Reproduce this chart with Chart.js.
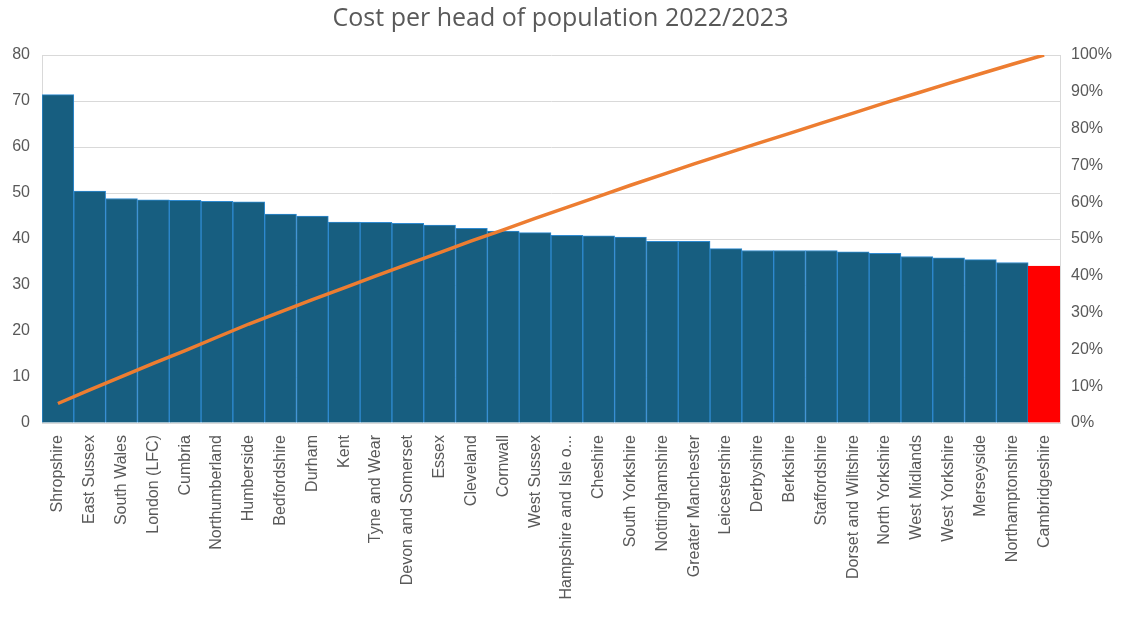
<!DOCTYPE html>
<html>
<head>
<meta charset="utf-8">
<script src="https://cdn.jsdelivr.net/npm/chart.js@4"></script>
<style>
  html, body { margin: 0; padding: 0; background: #ffffff; }
  #wrap { width: 1121px; height: 617px; }
</style>
</head>
<body>
<div id="wrap"><canvas id="costChart" width="1121" height="617"></canvas></div>
<script>
// Forces et coût par habitant, triés du plus cher au moins cher
var forces = ["Shropshire", "East Sussex", "South Wales", "London (LFC)", "Cumbria", "Northumberland",
  "Humberside", "Bedfordshire", "Durham", "Kent", "Tyne and Wear", "Devon and Somerset", "Essex",
  "Cleveland", "Cornwall", "West Sussex", "Hampshire and Isle o...", "Cheshire", "South Yorkshire",
  "Nottinghamshire", "Greater Manchester", "Leicestershire", "Derbyshire", "Berkshire", "Staffordshire",
  "Dorset and Wiltshire", "North Yorkshire", "West Midlands", "West Yorkshire", "Merseyside",
  "Northamptonshire", "Cambridgeshire"];

var costPerHead = [71.4, 50.4, 48.8, 48.5, 48.4, 48.2, 48.1, 45.4, 45.0, 43.7, 43.6, 43.4, 43.0,
  42.3, 41.7, 41.4, 40.8, 40.7, 40.4, 39.5, 39.5, 37.9, 37.5, 37.5, 37.5, 37.2, 36.9, 36.2,
  35.9, 35.5, 34.9, 34.1];

// Courbe cumulée (en %)
var cumulativePct = [5.3, 9.0, 12.6, 16.2, 19.7, 23.3, 26.9, 30.2, 33.5, 36.7, 40.0, 43.2, 46.3,
  49.5, 52.5, 55.6, 58.6, 61.6, 64.6, 67.5, 70.4, 73.2, 76.0, 78.7, 81.5, 84.2, 87.0, 89.6,
  92.3, 94.9, 97.5, 100];

var highlighted = "Cambridgeshire";

var leftTicks = [0, 10, 20, 30, 40, 50, 60, 70, 80];
var rightTicks = [0, 10, 20, 30, 40, 50, 60, 70, 80, 90, 100];

document.addEventListener("DOMContentLoaded", function() {
  var canvas = document.getElementById("costChart");
  var ctx = canvas.getContext("2d");

  var barColors = forces.map(function(f) { return f === highlighted ? "#FF0000" : "#175E80"; });
  var barBorders = forces.map(function(f) { return f === highlighted ? "#FF0000" : "#2F8AD0"; });

  var textColor = "#595959";
  var titleFont = "'Open Sans', sans-serif";
  var tickFont = "'Liberation Sans', Arial, sans-serif";

  new Chart(ctx, {
    data: {
      labels: forces,
      datasets: [
        {
          type: "line",
          data: cumulativePct,
          yAxisID: "y1",
          borderColor: "#ED7D31",
          borderWidth: 3.5,
          pointRadius: 0,
          tension: 0,
          order: 0
        },
        {
          type: "bar",
          data: costPerHead,
          yAxisID: "y",
          backgroundColor: barColors,
          borderColor: barBorders,
          borderWidth: 1,
          categoryPercentage: 1.0,
          barPercentage: 1.0,
          order: 1
        }
      ]
    },
    options: {
      responsive: false,
      animation: false,
      layout: { padding: 0 },
      plugins: {
        legend: { display: false },
        tooltip: { enabled: false },
        title: {
          display: true,
          text: "Cost per head of population 2022/2023",
          color: textColor,
          font: { family: titleFont, size: 25, weight: "normal" },
          padding: { top: 4, bottom: 21 }
        }
      },
      scales: {
        x: {
          grid: { display: false },
          border: { display: true, color: "#D9D9D9" },
          ticks: {
            color: textColor,
            font: { family: tickFont, size: 16 },
            minRotation: 90,
            maxRotation: 90,
            autoSkip: false,
            padding: 4
          },
          afterFit: function(scale) { scale.height = 194; }
        },
        y: {
          position: "left",
          min: 0,
          max: 80,
          afterBuildTicks: function(scale) {
            scale.ticks = leftTicks.map(function(v) { return { value: v }; });
          },
          grid: { color: "#D9D9D9", drawTicks: false },
          border: { display: true, color: "#D9D9D9" },
          ticks: {
            color: textColor,
            font: { family: tickFont, size: 16 },
            padding: 12
          },
          afterFit: function(scale) { scale.width = 42; }
        },
        y1: {
          position: "right",
          min: 0,
          max: 100,
          afterBuildTicks: function(scale) {
            scale.ticks = rightTicks.map(function(v) { return { value: v }; });
          },
          grid: { display: false, drawTicks: false },
          border: { display: true, color: "#D9D9D9" },
          ticks: {
            color: textColor,
            font: { family: tickFont, size: 16 },
            padding: 11,
            callback: function(v) { return v + "%"; }
          },
          afterFit: function(scale) { scale.width = 61; }
        }
      }
    }
  });
});
</script>
</body>
</html>
